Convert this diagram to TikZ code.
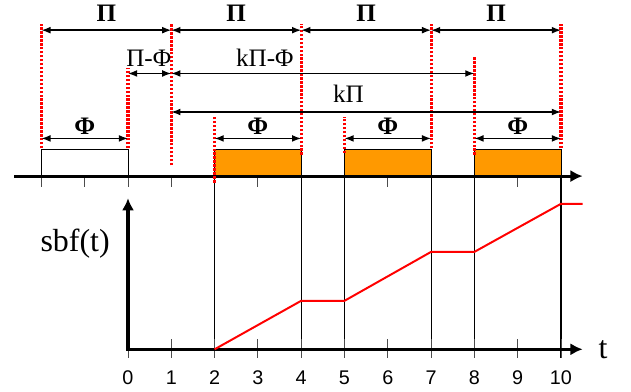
\documentclass[tikz,border=0pt]{standalone}
\usepackage{fontspec}
\setmainfont{Liberation Serif}
\setsansfont{Liberation Sans}
\usetikzlibrary{arrows.meta}
\definecolor{budget}{RGB}{255,153,0}
\tikzset{
  window/.style={
    draw,
    line width=0.6pt
  },
  deadline/.style={
    red,
    line width=2pt,
    dash pattern=on 1.6pt off 1pt
  },
  span/.style={
    line width=0.9pt,
    {Latex[length=6pt,width=4.5pt]}-{Latex[length=6pt,width=4.5pt]}
  },
  timeaxis/.style={
    line width=2pt,
    -{Latex[length=8pt,width=8pt]}
  },
  tick/.style={
    line width=0.6pt,
    black!70
  },
  guide/.style={
    line width=0.7pt
  },
  sbfline/.style={
    red,
    line width=1.3pt
  },
  biglabel/.style={
    anchor=base,
    inner sep=0pt,
    font=\fontsize{16.5}{19}\selectfont\bfseries
  },
  dimlabel/.style={
    anchor=base,
    inner sep=0pt,
    font=\fontsize{16.5}{19}\selectfont
  },
  num/.style={
    anchor=base,
    inner sep=0pt,
    font=\sffamily\fontsize{13}{15}\selectfont
  },
  axlabel/.style={
    anchor=base,
    inner sep=0pt,
    font=\fontsize{21}{25}\selectfont
  }
}

\begin{document}
\begin{tikzpicture}
  \useasboundingbox (-2.956,-0.986) rectangle (11.617,8.067);
  % supply windows on the time line
  \draw[window] (-2,4) rectangle (0,4.62);
  \foreach \s/\e in {2/4,5/7,8/10}{
    \draw[window,fill=budget] (\s,4) rectangle (\e,4.62);
  }
  \foreach \x in {-2,...,10}{
    \draw[tick] (\x,4) -- (\x,3.75);
  }
  \coordinate (ts) at (-2.63,4);
  \coordinate (te) at (10.5,4);
  \draw[timeaxis] (ts) -- (te);
  % guides down to the sbf axis
  \foreach \x in {2,4,5,7,8,10}{
    \draw[guide] (\x,4) -- (\x,-0.2);
  }
  % deadlines
  \foreach \x/\lo/\hi in {-2/4.64/7.51, 0/4.64/6.49, 1/4.25/7.51, 2/3.85/5.37,
                          4/4.49/7.51, 5/4.53/5.37, 7/4.64/7.51, 8/4.49/6.75, 10/4.64/7.51}{
    \draw[deadline] (\x,\lo) -- (\x,\hi);
  }
  % periods
  \foreach \a/\b [count=\i] in {-2/1,1/4,4/7,7/10}{
    \coordinate (pa\i) at (\a,7.37);
    \coordinate (pb\i) at (\b,7.37);
    \draw[span] (pa\i) -- (pb\i);
    \node[biglabel] (per\i) at ({(\a+\b)/2},7.57) {Π};
  }
  % budgets
  \foreach \a/\b [count=\i] in {-2/0,2/4,5/7,8/10}{
    \coordinate (fa\i) at (\a,4.87);
    \coordinate (fb\i) at (\b,4.87);
    \draw[span] (fa\i) -- (fb\i);
    \node[biglabel] (bud\i) at ({(\a+\b)/2},4.97) {Φ};
  }
  % offsets
  \coordinate (d0) at (0,6.37);
  \coordinate (d1) at (1,6.37);
  \coordinate (d8) at (8,6.37);
  \coordinate (k1) at (1,5.48);
  \coordinate (k10) at (10,5.48);
  \draw[span] (d0) -- (d1);
  \draw[span] (d1) -- (d8);
  \draw[span] (k1) -- (k10);
  \node[dimlabel] (gap) at (0.48,6.53) {Π-Φ};
  \node[dimlabel] (kgap) at (3.16,6.53) {kΠ-Φ};
  \node[dimlabel] (kper) at (5.09,5.69) {kΠ};
  % sbf(t)
  \coordinate (o) at (0,0);
  \coordinate (xe) at (10.5,0);
  \coordinate (ye) at (0,3.49);
  \foreach \x in {0,...,10}{
    \draw[tick] (\x,0.23) -- (\x,-0.2);
    \node[num] (n\x) at (\x,-0.82) {\x};
  }
  \draw[line width=2pt,{Latex[length=8pt,width=8pt]}-{Latex[length=8pt,width=8pt]}] (ye) -- (o) -- (xe);
  \draw[sbfline] (2,0) -- (4,1.12) -- (5,1.12) -- (7,2.25) -- (8,2.25) -- (10,3.36) -- (10.5,3.36);
  \node[axlabel] (ylab) at (-1.22,2.25) {sbf(t)};
  \node[axlabel] (tlab) at (10.97,-0.22) {t};
\end{tikzpicture}
\end{document}
